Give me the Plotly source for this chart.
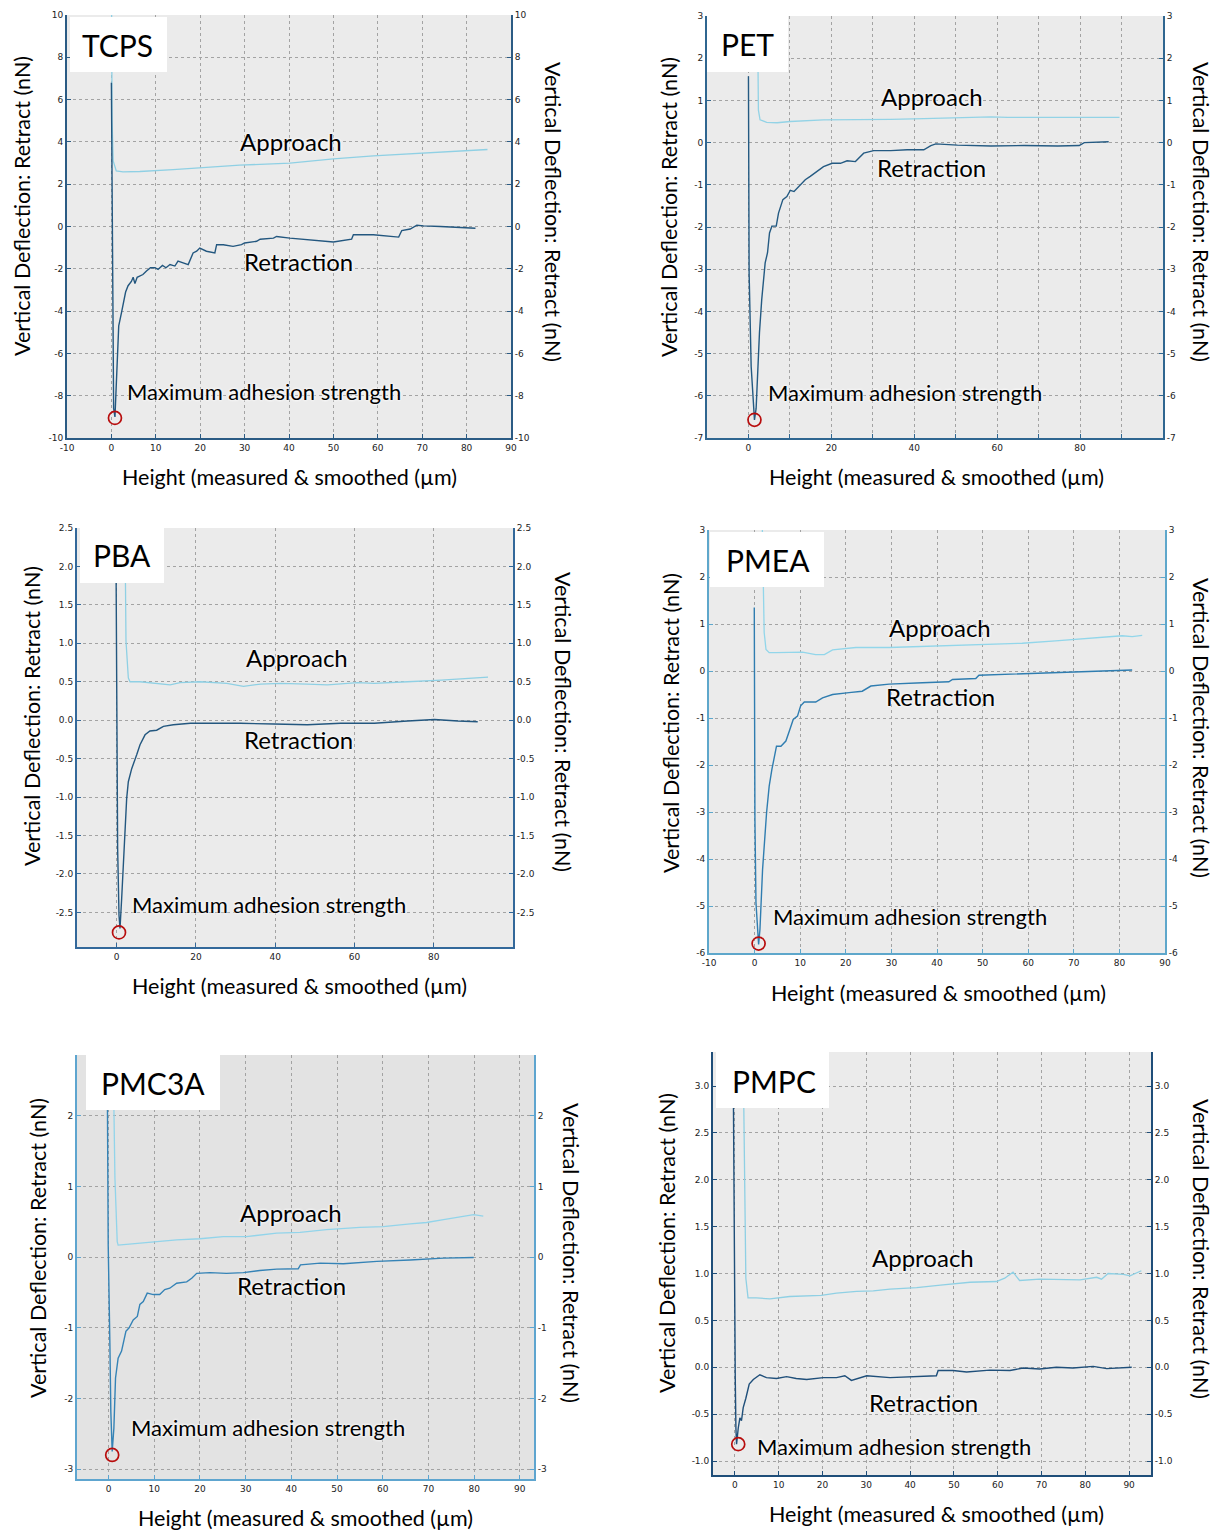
import plotly.graph_objects as go

W, H = 1215, 1531

# ---------------- data ----------------
# TCPS
tcps_ret_x = [0, 0.15, 0.5, 0.8, 1.3, 1.65, 2.25, 2.6, 3.2, 3.76, 4.5, 4.9, 5.3, 5.8, 6.4, 7.1, 7.9, 8.8, 9.8, 10.5,
              11.5, 12.3, 13.2, 14.3, 15.0, 16.2, 17.3, 18.4, 19.2, 19.9, 21.4, 23.3, 23.7, 25.2, 27.4, 29.3, 30.0,
              32.7, 33.5, 36.5, 37.2, 40.2, 44.0, 50.0, 54.1, 54.5, 59.0, 64.7, 65.4, 67.3, 68.8, 70.3, 74.1, 77.8, 82.0]
tcps_ret_y = [6.8, 2.5, -8.6, -9.0, -6.6, -4.7, -4.1, -3.75, -3.1, -2.8, -2.6, -2.4, -2.7, -2.4, -2.35, -2.27, -2.1,
              -1.95, -1.95, -2.03, -1.84, -1.95, -1.8, -1.87, -1.64, -1.72, -1.8, -1.25, -1.17, -1.02, -1.17, -1.25,
              -0.86, -0.86, -0.94, -0.86, -0.78, -0.7, -0.6, -0.55, -0.47, -0.55, -0.62, -0.73, -0.6, -0.39, -0.39,
              -0.5, -0.19, -0.12, 0.06, 0.03, 0.0, -0.05, -0.08]
tcps_app_x = [0.05, 0.15, 0.4, 0.8, 1.1, 2.6, 6.4, 13.9, 19.9, 28.9, 40.2, 50.0, 59.0, 70.3, 80.0, 84.7]
tcps_app_y = [10.0, 5.0, 3.1, 2.78, 2.63, 2.58, 2.6, 2.69, 2.77, 2.9, 3.0, 3.2, 3.34, 3.47, 3.6, 3.64]
tcps_max_x = [0.8]
tcps_max_y = [-9.05]

# PET
pet_ret_x = [0, 0.16, 0.65, 1.2, 1.45, 1.85, 2.66, 3.2, 4.03, 4.6, 5.08, 5.65, 6.7, 7.25, 8.3, 9.27, 10.1, 11.0, 12.1,
             13.7, 14.9, 16.5, 18.1, 20.2, 22.2, 23.8, 25.8, 27.8, 30.2, 34.3, 38.3, 42.3, 44.0, 45.2, 50.4, 58.5,
             66.5, 74.6, 79.8, 81.0, 86.9]
pet_ret_y = [1.57, -3.09, -5.3, -6.4, -6.57, -6.3, -4.5, -3.72, -2.85, -2.61, -2.14, -1.98, -1.98, -1.67, -1.35,
             -1.28, -1.13, -1.16, -1.04, -0.88, -0.8, -0.69, -0.57, -0.49, -0.49, -0.43, -0.45, -0.25, -0.19, -0.19,
             -0.17, -0.17, -0.07, -0.03, -0.06, -0.08, -0.07, -0.08, -0.07, 0.0, 0.02]
pet_app_x = [2.2, 2.4, 2.8, 4.4, 6.9, 10.1, 18.1, 26.2, 34.3, 42.3, 50.4, 58.5, 62.5, 66.5, 74.6, 82.7, 89.5]
pet_app_y = [3.0, 0.77, 0.54, 0.48, 0.47, 0.5, 0.54, 0.54, 0.55, 0.57, 0.59, 0.61, 0.6, 0.6, 0.61, 0.6, 0.6]
pet_max_x = [1.45]
pet_max_y = [-6.57]

# PBA
pba_ret_x = [-0.2, 0, 0.25, 0.6, 0.85, 1.27, 1.86, 2.53, 2.95, 3.8, 5.06, 5.9, 7.17, 8.4, 10.1, 11.8, 14.3, 18.6,
             22.8, 31.2, 39.7, 48.1, 56.5, 65.0, 73.4, 80.2, 86.1, 91.1]
pba_ret_y = [2.5, 0.07, -1.67, -2.54, -2.71, -2.32, -1.67, -1.02, -0.8, -0.63, -0.45, -0.32, -0.19, -0.14, -0.13,
             -0.08, -0.06, -0.04, -0.04, -0.04, -0.05, -0.06, -0.04, -0.04, -0.01, 0.01, -0.01, -0.02]
pba_app_x = [2.1, 2.36, 2.95, 3.38, 5.9, 10.1, 13.5, 16.0, 21.1, 27.8, 32.0, 36.3, 41.4, 48.1, 53.2, 60.8, 65.0,
             73.4, 81.9, 93.7]
pba_app_y = [2.5, 1.03, 0.55, 0.5, 0.5, 0.48, 0.46, 0.49, 0.5, 0.48, 0.44, 0.47, 0.48, 0.47, 0.46, 0.49, 0.48,
             0.5, 0.52, 0.56]
pba_max_x = [0.6]
pba_max_y = [-2.76]

# PMEA
pmea_ret_x = [-0.07, 0.07, 0.3, 0.66, 0.88, 1.17, 1.75, 2.63, 3.2, 3.8, 4.3, 4.8, 5.77, 6.86, 7.6, 8.47, 9.4, 10.1,
              10.9, 13.4, 14.9, 17.1, 20.7, 23.6, 25.5, 29.5, 36.8, 42.6, 43.4, 48.5, 49.2, 55.0, 62.3, 69.6, 76.9,
              82.8]
pmea_ret_y = [1.35, -3.16, -4.93, -5.64, -5.82, -5.5, -4.22, -3.01, -2.45, -2.09, -1.88, -1.6, -1.6, -1.49, -1.28,
              -1.03, -0.96, -0.74, -0.66, -0.66, -0.57, -0.5, -0.46, -0.43, -0.32, -0.28, -0.25, -0.23, -0.18, -0.16,
              -0.09, -0.07, -0.04, -0.02, 0.0, 0.02]
pmea_app_x = [1.7, 2.1, 2.5, 3.2, 4.7, 7.6, 10.5, 13.4, 15.3, 17.1, 22.2, 29.5, 36.8, 44.1, 51.4, 58.7, 66.0, 73.3,
              80.6, 82.8, 85.0]
pmea_app_y = [3.0, 0.82, 0.46, 0.39, 0.39, 0.4, 0.4, 0.35, 0.35, 0.45, 0.5, 0.5, 0.52, 0.55, 0.57, 0.59, 0.64, 0.69,
              0.75, 0.73, 0.76]
pmea_max_x = [0.88]
pmea_max_y = [-5.8]

# PMC3A
pmc3a_ret_x = [-0.3, -0.07, 0.3, 0.5, 0.8, 1.17, 1.53, 2.1, 2.85, 3.36, 3.8, 4.5, 5.4, 6.3, 6.86, 7.6, 8.47, 9.8,
               11.2, 12.3, 13.4, 14.9, 17.1, 18.2, 19.3, 22.2, 25.8, 29.5, 33.1, 36.8, 41.5, 42.0, 46.3, 51.4, 58.7,
               66.0, 73.3, 79.9]
pmc3a_ret_y = [2.9, 0.17, -1.24, -2.18, -2.75, -2.42, -1.71, -1.43, -1.33, -1.15, -1.05, -1.0, -0.89, -0.84, -0.67,
               -0.63, -0.51, -0.53, -0.53, -0.46, -0.44, -0.37, -0.35, -0.3, -0.23, -0.22, -0.23, -0.22, -0.19, -0.17,
               -0.165, -0.11, -0.085, -0.094, -0.06, -0.04, -0.014, -0.005]
pmc3a_app_x = [1.0, 1.4, 1.9, 2.1, 3.9, 7.6, 11.2, 14.9, 20.0, 25.1, 30.2, 36.8, 41.9, 47.7, 55.0, 60.1, 66.0, 69.6,
               73.3, 79.9, 82.0]
pmc3a_app_y = [2.9, 1.12, 0.22, 0.17, 0.18, 0.2, 0.22, 0.245, 0.26, 0.29, 0.29, 0.34, 0.35, 0.39, 0.42, 0.43, 0.47,
               0.49, 0.53, 0.6, 0.58]
pmc3a_max_x = [0.8]
pmc3a_max_y = [-2.8]

# PMPC
pmpc_ret_x = [-0.4, -0.15, 0.08, 0.23, 0.38, 0.76, 1.14, 1.5, 1.9, 2.5, 3.27, 4.2, 5.7, 7.2, 9.5, 11.8, 14.0, 16.4,
              20.2, 23.2, 25.1, 26.6, 28.5, 30.1, 35.4, 41.5, 46.0, 46.4, 49.8, 52.9, 58.2, 62.8, 65.8, 69.6, 73.4,
              77.2, 81.8, 84.9, 88.7, 90.6]
pmpc_ret_y = [3.3, 0.84, -0.11, -0.65, -0.82, -0.65, -0.54, -0.57, -0.43, -0.33, -0.18, -0.13, -0.08, -0.11, -0.12,
              -0.1, -0.12, -0.13, -0.11, -0.11, -0.09, -0.14, -0.11, -0.09, -0.11, -0.1, -0.09, -0.035, -0.035, -0.05,
              -0.03, -0.035, -0.007, -0.018, 0.0, -0.007, 0.01, -0.014, 0.0, 0.0]
pmpc_app_x = [1.9, 2.5, 3.0, 4.9, 8.0, 12.5, 19.7, 23.2, 27.8, 31.6, 35.4, 41.5, 47.5, 53.7, 59.7, 61.6, 63.5, 65.0,
              69.6, 75.0, 78.8, 82.6, 83.7, 85.2, 88.7, 90.2, 92.8]
pmpc_app_y = [3.3, 0.95, 0.74, 0.74, 0.73, 0.755, 0.766, 0.79, 0.81, 0.816, 0.833, 0.85, 0.88, 0.907, 0.915, 0.95,
              1.014, 0.926, 0.94, 0.94, 0.933, 0.96, 0.94, 1.0, 0.99, 0.975, 1.03]
pmpc_max_x = [0.76]
pmpc_max_y = [-0.82]

y_title = "Vertical Deflection: Retract (nN)"
x_title = "Height (measured & smoothed (\u00b5m)"

# ---------------- layout per panel (pixels) ----------------
panels = [
    dict(name="TCPS", data=(tcps_ret_x, tcps_ret_y, tcps_app_x, tcps_app_y, tcps_max_x, tcps_max_y),
         rect=(67, 15, 511, 438), xr=[-10, 90], yr=[-10, 10],
         xt=list(range(-10, 91, 10)), xshow=None, yt=list(range(-10, 11, 2)), ydec=0,
         axc="#2b5b84", retc="#23577f", appc="#8fd0e4", bg=None,
         box=(70, 17, 167, 72), lab=(118, 45),
         ylt=(22, 206), yrt=(553, 212), xtt=(289, 477),
         a_app=(291, 142), a_ret=(298, 261), a_max=(264, 391)),
    dict(name="PET", data=(pet_ret_x, pet_ret_y, pet_app_x, pet_app_y, pet_max_x, pet_max_y),
         rect=(707, 16, 1163, 438), xr=[-10, 100], yr=[-7, 3],
         xt=list(range(0, 91, 10)), xshow=[0, 20, 40, 60, 80],
         yt=list(range(-7, 4, 1)), ydec=0,
         axc="#2f6690", retc="#245a82", appc="#93d3e6", bg=None,
         box=(707, 16, 788, 72), lab=(748, 44),
         ylt=(669, 207), yrt=(1203, 212), xtt=(936, 477),
         a_app=(932, 96), a_ret=(931, 167), a_max=(905, 392)),
    dict(name="PBA", data=(pba_ret_x, pba_ret_y, pba_app_x, pba_app_y, pba_max_x, pba_max_y),
         rect=(77, 528, 513, 947), xr=[-10, 100], yr=[-2.95, 2.5],
         xt=[0, 20, 40, 60, 80], xshow=None, yt=[-2.5, -2, -1.5, -1, -0.5, 0, 0.5, 1, 1.5, 2, 2.5], ydec=1,
         axc="#33689a", retc="#23577f", appc="#8fd0e4", bg=None,
         box=(80, 527, 164, 583), lab=(122, 555),
         ylt=(32, 716), yrt=(563, 722), xtt=(299, 986),
         a_app=(297, 657), a_ret=(298, 739), a_max=(269, 904)),
    dict(name="PMEA", data=(pmea_ret_x, pmea_ret_y, pmea_app_x, pmea_app_y, pmea_max_x, pmea_max_y),
         rect=(709, 530, 1165, 953), xr=[-10, 90], yr=[-6, 3],
         xt=list(range(-10, 91, 10)), xshow=None, yt=list(range(-6, 4, 1)), ydec=0,
         axc="#5ea7cb", retc="#2f7db0", appc="#92d6ea", bg=None,
         box=(710, 532, 824, 587), lab=(768, 560),
         ylt=(671, 723), yrt=(1204, 728), xtt=(938, 993),
         a_app=(940, 627), a_ret=(940, 697), a_max=(910, 917)),
    dict(name="PMC3A", data=(pmc3a_ret_x, pmc3a_ret_y, pmc3a_app_x, pmc3a_app_y, pmc3a_max_x, pmc3a_max_y),
         rect=(77, 1055, 534, 1479), xr=[-6.9, 93.1], yr=[-3.14, 2.86],
         xt=list(range(0, 91, 10)), xshow=None, yt=list(range(-3, 3, 1)), ydec=0,
         axc="#5ea5cf", retc="#3583b6", appc="#92d4ea", bg="#e3e3e3",
         box=(86, 1055, 220, 1110), lab=(153, 1083),
         ylt=(38, 1248), yrt=(571, 1253), xtt=(305, 1518),
         a_app=(291, 1212), a_ret=(291, 1285), a_max=(268, 1427)),
    dict(name="PMPC", data=(pmpc_ret_x, pmpc_ret_y, pmpc_app_x, pmpc_app_y, pmpc_max_x, pmpc_max_y),
         rect=(713, 1052, 1151, 1475), xr=[-5, 95], yr=[-1.149, 3.363],
         xt=list(range(0, 91, 10)), xshow=None, yt=[-1, -0.5, 0, 0.5, 1, 1.5, 2, 2.5, 3], ydec=1,
         axc="#1f4e79", retc="#1f4f7a", appc="#8fd0e4", bg=None,
         box=(716, 1052, 829, 1108), lab=(774, 1081),
         ylt=(667, 1243), yrt=(1201, 1249), xtt=(936, 1514),
         a_app=(923, 1257), a_ret=(923, 1402), a_max=(894, 1446)),
]


def fx(px):
    return px / W


def fy(py):
    return 1 - py / H


def lab(v, dec):
    # hyphen-minus labels as in the original software
    return f"{v:.{dec}f}"


fig = go.Figure()
layout = dict(width=W, height=H, margin=dict(l=0, r=0, t=0, b=0, pad=0), showlegend=False, autosize=False,
              paper_bgcolor="white", plot_bgcolor="#ebebeb")
shapes, annotations = [], []

TXT = "Lato"
TS = 21.5
tickfont = dict(family="DejaVu Sans", size=9, color="#222")
glow = "0px 0px 3px white, 0px 0px 3px white"
GRID = dict(showgrid=True, gridcolor="#a3a3a3", griddash="3px,3px", gridwidth=1, zeroline=False)

for i, p in enumerate(panels, start=1):
    rx, ry, ax_, ay_, mx, my = p["data"]
    l, t, r, b = p["rect"]
    xa, ya, yr_ = f"x{i}", f"y{i}", f"y{i + 6}"
    xkey = "xaxis" if i == 1 else f"xaxis{i}"
    ykey = "yaxis" if i == 1 else f"yaxis{i}"
    yrkey = f"yaxis{i + 6}"

    fig.add_trace(go.Scatter(x=ax_, y=ay_, mode="lines", line=dict(color=p["appc"], width=1.3),
                             xaxis=xa, yaxis=ya, name="Approach", hoverinfo="skip"))
    fig.add_trace(go.Scatter(x=rx, y=ry, mode="lines", line=dict(color=p["retc"], width=1.4),
                             xaxis=xa, yaxis=ya, name="Retraction", hoverinfo="skip"))
    fig.add_trace(go.Scatter(x=mx, y=my, mode="markers",
                             marker=dict(symbol="circle-open", size=13, color="#b80d0d", line=dict(width=1.7)),
                             xaxis=xa, yaxis=yr_, name="Maximum adhesion strength", hoverinfo="skip"))

    xtext = [lab(v, 0) if (p["xshow"] is None or v in p["xshow"]) else "" for v in p["xt"]]
    ytext = [lab(v, p["ydec"]) for v in p["yt"]]
    axstyle = dict(showline=True, linecolor=p["axc"], linewidth=2, ticks="inside", ticklen=4,
                   tickcolor=p["axc"], tickfont=tickfont, automargin=False)
    layout[xkey] = dict(domain=[fx(l), fx(r)], anchor=ya, range=p["xr"], tickmode="array", tickvals=p["xt"],
                        ticktext=xtext, **axstyle, **GRID)
    layout[ykey] = dict(domain=[fy(b), fy(t)], anchor=xa, range=p["yr"], tickmode="array", tickvals=p["yt"],
                        ticktext=ytext, **axstyle, **GRID)
    layout[yrkey] = dict(overlaying=ya, side="right", anchor=xa, range=p["yr"], tickmode="array",
                         tickvals=p["yt"], ticktext=ytext, showgrid=False, zeroline=False, **axstyle)

    if p["bg"]:
        shapes.append(dict(type="rect", xref=f"{xa} domain", yref=f"{ya} domain", x0=0, x1=1, y0=0, y1=1,
                           fillcolor=p["bg"], line=dict(width=0), layer="below"))
    bx0, by0, bx1, by1 = p["box"]
    shapes.append(dict(type="rect", xref="paper", yref="paper", x0=fx(bx0), x1=fx(bx1), y0=fy(by1), y1=fy(by0),
                       fillcolor="white", line=dict(width=0), layer="above"))
    annotations.append(dict(text=p["name"], x=fx(p["lab"][0]), y=fy(p["lab"][1]), xref="paper", yref="paper",
                            showarrow=False, xanchor="center", yanchor="middle",
                            font=dict(family=TXT, size=30, color="black")))
    for key, txt, fs in (("a_app", "Approach", 24), ("a_ret", "Retraction", 24),
                         ("a_max", "Maximum adhesion strength", 22)):
        annotations.append(dict(text=txt, x=fx(p[key][0]), y=fy(p[key][1]), xref="paper", yref="paper",
                                showarrow=False, xanchor="center", yanchor="middle",
                                font=dict(family=TXT, size=fs, color="black", shadow=glow)))
    annotations.append(dict(text=y_title, x=fx(p["ylt"][0]), y=fy(p["ylt"][1]), xref="paper", yref="paper",
                            showarrow=False, textangle=-90, xanchor="center", yanchor="middle",
                            font=dict(family=TXT, size=TS, color="black")))
    # right-hand title; in the right column it is pinned to the page edge so it is not clipped
    if p["yrt"][0] > 1190:
        rt = dict(x=1.0, xanchor="right", borderpad=0)
    else:
        rt = dict(x=fx(p["yrt"][0]), xanchor="center")
    annotations.append(dict(text=y_title, y=fy(p["yrt"][1]), xref="paper", yref="paper",
                            showarrow=False, textangle=90, yanchor="middle",
                            font=dict(family=TXT, size=TS, color="black"), **rt))
    annotations.append(dict(text=x_title, x=fx(p["xtt"][0]), y=fy(p["xtt"][1]), xref="paper", yref="paper",
                            showarrow=False, xanchor="center", yanchor="middle",
                            font=dict(family=TXT, size=TS, color="black")))

layout["shapes"] = shapes
layout["annotations"] = annotations
fig.update_layout(**layout)
fig.write_html("out.html")
